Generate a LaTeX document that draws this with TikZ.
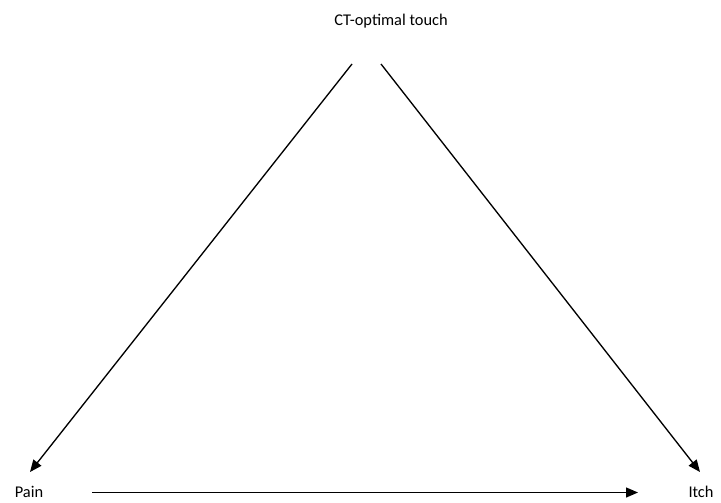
\documentclass[tikz,border=0pt]{standalone}
\usepackage{fontspec}
\setmainfont{Carlito}
\usepackage{tikz}
\usetikzlibrary{arrows.meta, positioning}

\begin{document}
\begin{tikzpicture}[
    lbl/.style={font=\fontsize{12.3}{14}\selectfont, inner sep=0pt, anchor=center},
    link/.style={line width=1pt, -{Triangle[length=9pt, width=7.5pt]}},
    x=0.75pt, y=-0.75pt
  ]
  \useasboundingbox (0,0) rectangle (721,503);
  % labels
  \node[lbl] (ct) at (391, 21) {CT-optimal touch};
  \node[lbl] (pain) at (29, 492) {Pain};
  \node[lbl] (itch) at (701, 492) {Itch};
  % arrow ends
  \coordinate (ctL) at (352, 64);
  \coordinate (ctR) at (381, 64);
  \coordinate (painTip) at (30, 472);
  \coordinate (itchTip) at (700, 472);
  \coordinate (painR) at (92, 492.5);
  \coordinate (itchL) at (638, 492.5);
  % arrows
  \draw[link] (ctL) -- (painTip);
  \draw[link] (ctR) -- (itchTip);
  \draw[link] (painR) -- (itchL);
\end{tikzpicture}
\end{document}
